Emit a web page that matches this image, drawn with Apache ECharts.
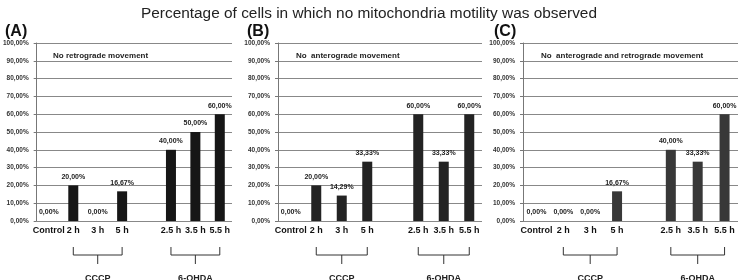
<!DOCTYPE html>
<html><head><meta charset="utf-8">
<script src="https://cdn.jsdelivr.net/npm/echarts@6/dist/echarts.min.js"></script>
<style>html,body{margin:0;padding:0;background:#fff}#c{width:738px;height:280px}</style>
</head><body><div id="c"></div>
<script>
const categories = ['Control', '2 h', '3 h', '5 h', '', '2.5 h', '3.5 h', '5.5 h'];
const valuesA = [0, 20, 0, 16.67, '-', 40, 50, 60];
const valuesB = [0, 20, 14.29, 33.33, '-', 60, 33.33, 60];
const valuesC = [0, 0, 0, 16.67, '-', 40, 33.33, 60];
const panelLabels = ['(A)', '(B)', '(C)'];
const notes = ['No retrograde movement', 'No  anterograde movement', 'No  anterograde and retrograde movement'];
const groupNames = ['CCCP', '6-OHDA'];
const titleText = 'Percentage of cells in which no mitochondria motility was observed';

const FONT = 'Liberation Sans';
const grids = [
  {left: 35, width: 197, top: 43, height: 178},
  {left: 278, width: 204, top: 43, height: 178},
  {left: 523, width: 215, top: 43, height: 178}
];
const barColors = ['#161616', '#232323', '#383838'];
const series = [valuesA, valuesB, valuesC];
const fmt = v => Number(v).toFixed(2).replace('.', ',') + '%';

const chart = echarts.init(document.getElementById('c'), null, {renderer: 'canvas'});
const option = {
  animation: false,
  backgroundColor: '#fff',
  title: [{text: titleText, left: 364, top: 1, textAlign: 'center',
           textStyle: {fontFamily: FONT, fontSize: 15.4, fontWeight: 'normal', color: '#222'}}]
    .concat(panelLabels.map((t, i) => ({text: t, left: [0, 242, 489][i], top: 19,
      textStyle: {fontFamily: FONT, fontSize: 16, fontWeight: 'bold', color: '#111'}})))
    .concat(notes.map((t, i) => ({text: t, left: grids[i].left + 13, top: 47,
      textStyle: {fontFamily: FONT, fontSize: 8, fontWeight: 'bold', color: '#222'}}))),
  grid: grids,
  xAxis: grids.map((g, i) => ({
    type: 'category', gridIndex: i, data: categories,
    axisLine: {show: false}, axisTick: {show: false},
    axisLabel: {interval: 0, margin: 5, fontFamily: FONT, fontSize: 9, fontWeight: 'bold', color: '#111'}
  })),
  yAxis: grids.map((g, i) => ({
    type: 'value', gridIndex: i, min: 0, max: 100, interval: 10,
    axisLine: {show: true, lineStyle: {color: '#777', width: 1}},
    axisTick: {show: true, length: 3, lineStyle: {color: '#777'}},
    splitLine: {show: true, lineStyle: {color: '#888', width: 1}},
    axisLabel: {margin: 8, formatter: v => fmt(v), fontFamily: FONT, fontSize: 6.5, fontWeight: 'bold', color: '#333'}
  })),
  series: series.map((d, i) => ({
    type: 'bar', xAxisIndex: i, yAxisIndex: i, data: d, barWidth: 10,
    itemStyle: {color: barColors[i]},
    label: {show: true, position: 'top', distance: 5, formatter: p => fmt(p.value),
            fontFamily: FONT, fontSize: 7, fontWeight: 'bold', color: '#222'}
  }))
};
chart.setOption(option);

// Brackets below each group, positioned via the axes
const graphics = [];
const yTick = 247, yBar = 255, yStem = 264;
const groups = [[1, 3], [5, 7]];
for (let i = 0; i < 3; i++) {
  groups.forEach((gr, gi) => {
    const x1 = chart.convertToPixel({xAxisIndex: i}, categories[gr[0]]);
    const x2 = chart.convertToPixel({xAxisIndex: i}, categories[gr[1]]);
    const xm = (x1 + x2) / 2;
    const ls = {stroke: '#333', lineWidth: 1};
    graphics.push({type: 'polyline', shape: {points: [[x1, yTick], [x1, yBar], [x2, yBar], [x2, yTick]]}, style: Object.assign({fill: null}, ls)});
    graphics.push({type: 'line', shape: {x1: xm, y1: yBar, x2: xm, y2: yStem}, style: ls});
    graphics.push({type: 'text', x: xm, y: 274, style: {text: groupNames[gi], textAlign: 'center', textVerticalAlign: 'top',
      font: 'bold 9px ' + FONT, fill: '#222'}});
  });
}
chart.setOption({graphic: graphics});
</script></body></html>
